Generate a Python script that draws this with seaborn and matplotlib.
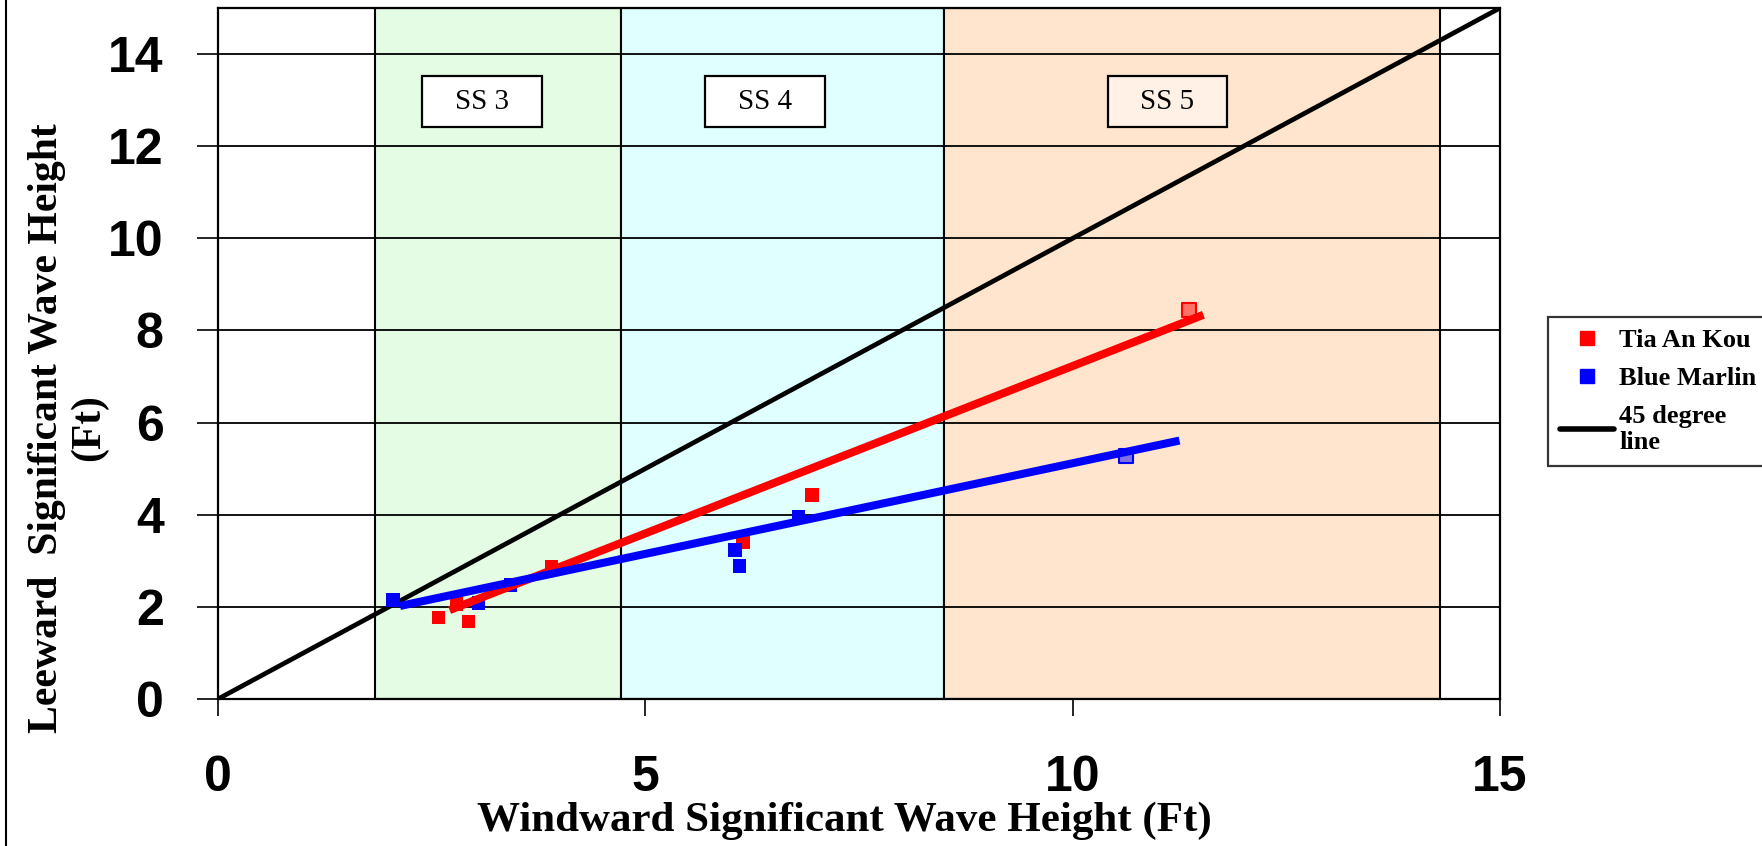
import numpy as np
import pandas as pd
import matplotlib
matplotlib.use("Agg")
import matplotlib.pyplot as plt
import seaborn as sns
from matplotlib.lines import Line2D
from matplotlib.patches import Rectangle

# ---------------- data ----------------
tia_windward = [2.58, 2.79, 2.93, 3.90, 6.14, 6.95, 11.36]
tia_leeward = [1.77, 2.06, 1.68, 2.87, 3.41, 4.43, 8.44]
blue_windward = [2.05, 3.05, 3.42, 6.05, 6.10, 6.79, 10.62]
blue_leeward = [2.15, 2.08, 2.47, 3.23, 2.89, 3.96, 5.27]

tia_trend_x = [2.71, 11.53]
tia_trend_y = [1.93, 8.34]
blue_trend_x = [2.13, 11.25]
blue_trend_y = [2.02, 5.61]

line45_x = [0, 15]
line45_y = [0, 15]

sea_state_labels = ["SS 3", "SS 4", "SS 5"]
sea_state_edges = [1.84, 4.72, 8.49, 14.30]
sea_state_label_x = [3.09, 6.40, 11.11]
sea_state_label_y = 12.97

x_ticks = [0, 5, 10, 15]
y_ticks = [0, 2, 4, 6, 8, 10, 12, 14]

series_names = ["Tia An Kou", "Blue Marlin", "45 degree\nline"]

# ---------------- style ----------------
sns.set_theme(style="white")
plt.rcParams["font.family"] = ["Liberation Sans", "DejaVu Sans"]
plt.rcParams["text.color"] = "black"
plt.rcParams["axes.labelcolor"] = "black"
plt.rcParams["xtick.color"] = "black"
plt.rcParams["ytick.color"] = "black"

W, H = 1762, 846
fig = plt.figure(figsize=(W / 100, H / 100), dpi=100)
ax = fig.add_axes([218 / W, 1 - 699 / H, (1500 - 218) / W, (699 - 8) / H])

span_colors = ["#E3FCE3", "#E0FFFF", "#FFE5CD"]
for i in range(3):
    ax.axvspan(sea_state_edges[i], sea_state_edges[i + 1], facecolor=span_colors[i],
               edgecolor="black", linewidth=1.5, zorder=0.2)

ax.set_axisbelow(True)
ax.yaxis.grid(True, color="black", linewidth=1.3, zorder=0.5)
ax.xaxis.grid(False)

pts = pd.DataFrame({
    "windward": tia_windward + blue_windward,
    "leeward": tia_leeward + blue_leeward,
    "series": [series_names[0]] * len(tia_windward) + [series_names[1]] * len(blue_windward),
})
trend = pd.DataFrame({
    "windward": tia_trend_x + blue_trend_x,
    "leeward": tia_trend_y + blue_trend_y,
    "series": [series_names[0]] * 2 + [series_names[1]] * 2,
})
ref45 = pd.DataFrame({"windward": line45_x, "leeward": line45_y})

pal = {series_names[0]: "#FF0000", series_names[1]: "#0000FF"}

sns.lineplot(data=ref45, x="windward", y="leeward", color="black", linewidth=3.4,
             ax=ax, legend=False, zorder=2, solid_capstyle="butt")

main_pts = pts.groupby("series", sort=False).head(6)
last_pts = pts.groupby("series", sort=False).tail(1)
sns.scatterplot(data=main_pts, x="windward", y="leeward", hue="series", palette=pal,
                marker="s", s=95, linewidth=0, ax=ax, legend=False, zorder=3)
for _, r in last_pts.iterrows():
    c = pal[r["series"]]
    sns.scatterplot(x=[r["windward"]], y=[r["leeward"]], marker="s", s=95,
                    facecolor=matplotlib.colors.to_rgba(c, 0.5), edgecolor=c,
                    linewidth=1.5, ax=ax, legend=False, zorder=3)

sns.lineplot(data=trend, x="windward", y="leeward", hue="series", palette=pal,
             linewidth=5.8, ax=ax, legend=False, zorder=4, solid_capstyle="butt")

# sea state label boxes
box_fc = ["white", "white", "#FFF1E6"]
for lab, xc, fc in zip(sea_state_labels, sea_state_label_x, box_fc):
    ax.add_patch(Rectangle((xc - 0.70, sea_state_label_y - 0.555), 1.40, 1.11,
                           facecolor=fc, edgecolor="black", linewidth=1.6, zorder=5))
    ax.text(xc, sea_state_label_y, lab, ha="center", va="center", fontsize=21,
            family="Liberation Serif", color="black", zorder=6)

ax.set_xlim(0, 15)
ax.set_ylim(0, 15)
ax.set_xticks(x_ticks)
ax.set_yticks(y_ticks)
ax.set_xlabel("")
ax.set_ylabel("")
for t in ax.get_xticklabels() + ax.get_yticklabels():
    t.set_fontweight("bold")
ax.tick_params(axis="y", direction="out", length=15, width=1.2, pad=24,
               labelsize=36, colors="black", left=True)
ax.tick_params(axis="x", direction="out", length=12, width=1.2, pad=28,
               labelsize=36, colors="black", bottom=True)
for s in ax.spines.values():
    s.set_color("black")
    s.set_linewidth(1.6)
    s.set_zorder(7)

# axis titles
fig.text(844 / W, 1 - 821 / H, "Windward Significant Wave Height (Ft)", ha="center",
         va="center", fontsize=31, fontweight="bold", family="Liberation Serif",
         color="black")
fig.text(68 / W, 1 - 428 / H, "Leeward  Significant Wave Height\n(Ft)", ha="center",
         va="center", rotation=90, fontsize=30, fontweight="bold",
         family="Liberation Serif", multialignment="center", linespacing=1.15,
         color="black")

# legend
handles = [
    Line2D([], [], marker="s", color="#FF0000", linestyle="none", markersize=9.5),
    Line2D([], [], marker="s", color="#0000FF", linestyle="none", markersize=9.5),
    Line2D([], [], color="black", linewidth=4),
]
leg = fig.legend(handles, series_names, loc="upper left",
                 bbox_to_anchor=(1548 / W, 1 - 317 / H), frameon=True, fancybox=False,
                 edgecolor="black", borderaxespad=0, borderpad=0.45, handlelength=2.05,
                 handletextpad=0.2, labelspacing=0.55,
                 prop={"family": "Liberation Serif", "weight": "bold", "size": 19})
leg.get_frame().set_linewidth(1.6)
for t in leg.get_texts():
    t.set_color("black")

# outer chart-area border on the left
fig.add_artist(Line2D([6 / W, 6 / W], [0, 1], color="black", linewidth=1.5,
                      transform=fig.transFigure))

fig.savefig("out.png", dpi=100)
